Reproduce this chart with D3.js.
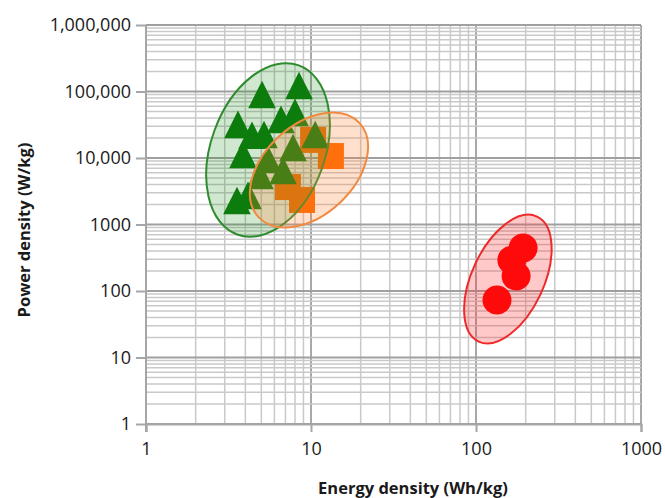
<!DOCTYPE html>
<html lang="en">
<head>
<meta charset="UTF-8">
<title>Power vs energy density</title>
<script src="https://cdn.jsdelivr.net/npm/d3@7"></script>
<style>
    body { margin: 0; background: #fff; }
    text { font-family: "Open Sans", sans-serif; fill: #1a1a1a; }
    .tick-label { font-size: 18px; }
    .axis-title { font-size: 16.5px; font-weight: bold; }
</style>
</head>
<body>
<svg id="chart" width="665" height="498"></svg>
<script>
// triangles (green)
let triEnergy = [5.05, 8.46, 3.61, 4.39, 6.58, 8.0, 5.19, 7.78, 5.49, 4.91, 10.6, 3.56, 4.15, 3.87, 6.77];
let triPower  = [77100, 105000, 27300, 18700, 32500, 41400, 19300, 12300, 8130, 4670, 19300, 1960, 2340, 9660, 5550];
// squares (orange)
let sqEnergy = [13.2, 10.3, 7.25, 8.82];
let sqPower  = [10700, 18700, 3660, 2340];
// circles (red)
let circEnergy = [193, 165, 175, 134];
let circPower  = [443, 292, 168, 73];
// ellipse centres
let groupNames  = ["triangles", "squares", "circles"];
let groupEnergy = [5.49, 9.72, 156];
let groupPower  = [13200, 6600, 151];

let xTicks = [1, 10, 100, 1000];
let yTicks = [1, 10, 100, 1000, 10000, 100000, 1000000];
let yTickText = ["1", "10", "100", "1000", "10,000", "100,000", "1,000,000"];

let svg = d3.select("#chart");
let mLeft = 146, mRight = 641, mTop = 25, mBottom = 424;

let x = d3.scaleLog().domain([1, 1000]).range([mLeft, mRight]);
let y = d3.scaleLog().domain([1, 1000000]).range([mBottom, mTop]);

// minor + major grid values
let xGrid = [], yGrid = [];
for (let d = 1; d < 1000; d *= 10) for (let k = 1; k < 10; k++) xGrid.push(d * k);
xGrid.push(1000);
for (let d = 1; d < 1000000; d *= 10) for (let k = 1; k < 10; k++) yGrid.push(d * k);
yGrid.push(1000000);
let isMajor = v => Math.abs(Math.log10(v) - Math.round(Math.log10(v))) < 1e-9;

let grid = svg.append("g");
grid.selectAll(".vx").data(xGrid).enter().append("line")
    .attr("x1", d => x(d)).attr("x2", d => x(d))
    .attr("y1", mTop).attr("y2", mBottom)
    .attr("stroke", d => isMajor(d) ? "#a8a8a8" : "#c9c9c9")
    .attr("stroke-width", d => isMajor(d) ? 2 : 1.5);
grid.selectAll(".hy").data(yGrid).enter().append("line")
    .attr("x1", mLeft).attr("x2", mRight)
    .attr("y1", d => y(d)).attr("y2", d => y(d))
    .attr("stroke", d => isMajor(d) ? "#a0a0a0" : "#c9c9c9")
    .attr("stroke-width", d => isMajor(d) ? 2 : 1.5);

// axes
let xAxis = d3.axisBottom(x).tickValues(xTicks).tickFormat(d3.format("d")).tickSize(8).tickPadding(10);
let yAxis = d3.axisLeft(y).tickValues(yTicks).tickFormat((d, i) => yTickText[i]).tickSize(10).tickPadding(5);

let gx = svg.append("g").attr("transform", `translate(0,${mBottom})`).call(xAxis);
let gy = svg.append("g").attr("transform", `translate(${mLeft},0)`).call(yAxis);
[gx, gy].forEach(g => {
    g.select(".domain").attr("stroke", "#a6a6a6").attr("stroke-width", 2);
    g.selectAll(".tick line").attr("stroke", "#a6a6a6").attr("stroke-width", 2);
    g.selectAll(".tick text").attr("class", "tick-label").attr("fill", "#1a1a1a");
});
gy.select(".domain").attr("d", `M0,${mTop}V${mBottom + 8}`);

// markers
let marks = svg.append("g");
marks.selectAll(".sq").data(sqEnergy).enter().append("rect")
    .attr("x", (d, i) => x(d) - 13).attr("y", (d, i) => y(sqPower[i]) - 13)
    .attr("width", 26).attr("height", 26)
    .attr("fill", "#ff6a00");

// slightly tall triangle, centred on its centroid
let tallTriangle = {
    draw(ctx, size) {
        let h = Math.sqrt(size * 2), w = h;
        ctx.moveTo(0, -2 * h / 3);
        ctx.lineTo(w / 2, h / 3);
        ctx.lineTo(-w / 2, h / 3);
        ctx.closePath();
    }
};
let tri = d3.symbol().type(tallTriangle).size(380);
marks.selectAll(".tri").data(triEnergy).enter().append("path")
    .attr("d", tri)
    .attr("transform", (d, i) => `translate(${x(d)},${y(triPower[i])})`)
    .attr("fill", "#0b780b");
marks.selectAll(".circ").data(circEnergy).enter().append("circle")
    .attr("cx", d => x(d)).attr("cy", (d, i) => y(circPower[i]))
    .attr("r", 14.5)
    .attr("fill", "#ff0000");

// ellipses
let ellStyle = {
    triangles: { rx: 57, ry: 90, rot: 20, fill: "rgba(20,140,20,0.2)", stroke: "#2e8b2e" },
    squares:   { rx: 45, ry: 69, rot: 47, fill: "rgba(255,130,50,0.25)", stroke: "#f08a40" },
    circles:   { rx: 36, ry: 69, rot: 25, fill: "rgba(255,40,40,0.25)", stroke: "#ee2a2a" }
};
svg.append("g").selectAll("ellipse").data(groupNames).enter().append("ellipse")
    .attr("transform", (d, i) => `translate(${x(groupEnergy[i])},${y(groupPower[i])}) rotate(${ellStyle[d].rot})`)
    .attr("rx", d => ellStyle[d].rx).attr("ry", d => ellStyle[d].ry)
    .attr("fill", d => ellStyle[d].fill)
    .attr("stroke", d => ellStyle[d].stroke)
    .attr("stroke-width", 2);

// titles
svg.append("text").attr("class", "axis-title")
    .attr("x", 413).attr("y", 494).attr("text-anchor", "middle")
    .text("Energy density (Wh/kg)");
svg.append("text").attr("class", "axis-title")
    .attr("transform", "translate(30,230) rotate(-90)").attr("text-anchor", "middle")
    .text("Power density (W/kg)");
</script>
</body>
</html>
